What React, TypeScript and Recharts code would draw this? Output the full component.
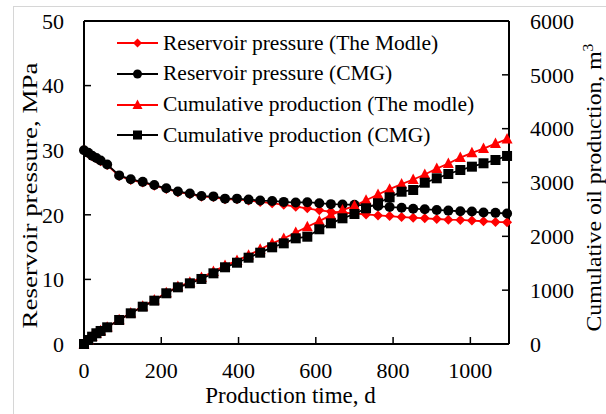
import { ComposedChart, Line, XAxis, YAxis, Legend, ReferenceLine, Label } from "recharts";

// Production time, d
const days = [
  0, 11, 21, 32, 43, 60, 91, 121, 152, 182, 213, 243, 274, 304, 335, 365, 396, 426, 456, 487,
  517, 548, 578, 609, 639, 669, 700, 730, 761, 791, 822, 852, 882, 913, 943, 974, 1004, 1034, 1065, 1095,
];

// Reservoir pressure, MPa
const pressureModel = [
  30.0, 29.5, 29.05, 28.7, 28.3, 27.7, 26.0, 25.4, 25.0, 24.5, 24.0, 23.5, 23.2, 22.8, 22.75, 22.4, 22.4, 22.2, 22.0, 21.8,
  21.55, 21.25, 21.0, 20.7, 20.5, 20.35, 20.2, 20.05, 19.9, 19.8, 19.65, 19.55, 19.45, 19.35, 19.25, 19.2, 19.1, 19.0, 18.9, 18.85,
];
const pressureCmg = [
  30.0, 29.6, 29.15, 28.8, 28.4, 27.8, 26.1, 25.5, 25.1, 24.6, 24.1, 23.6, 23.3, 22.9, 22.85, 22.5, 22.5, 22.35, 22.2, 22.15,
  22.0, 21.9, 21.95, 21.8, 21.65, 21.6, 21.55, 21.45, 21.35, 21.2, 21.1, 20.95, 20.85, 20.75, 20.65, 20.55, 20.5, 20.35, 20.3, 20.2,
];

// Cumulative oil production, m3
const cumModel = [
  0, 74, 136, 199, 245, 312, 450, 575, 700, 815, 950, 1065, 1145, 1235, 1345, 1455, 1550, 1650, 1760, 1868,
  1960, 2072, 2177, 2282, 2393, 2486, 2566, 2671, 2777, 2876, 2969, 3055, 3148, 3259, 3352, 3463, 3550, 3630, 3723, 3805,
];
const cumCmg = [
  0, 74, 136, 199, 242, 310, 446, 570, 693, 805, 942, 1053, 1127, 1208, 1313, 1425, 1510, 1603, 1696, 1796,
  1870, 1963, 1993, 2131, 2242, 2335, 2415, 2521, 2614, 2725, 2829, 2861, 2996, 3078, 3158, 3232, 3294, 3357, 3418, 3493,
];

const timeTicks = [0, 200, 400, 600, 800, 1000];
const pressureTicks = [0, 10, 20, 30, 40, 50];
const cumTicks = [0, 1000, 2000, 3000, 4000, 5000, 6000];

const data = days.map((day, i) => ({
  day,
  pModel: pressureModel[i],
  pCmg: pressureCmg[i],
  qModel: cumModel[i],
  qCmg: cumCmg[i],
}));

const FONT = '"Liberation Serif", "Times New Roman", serif';
const RED = "#ff0000";
const BLACK = "#000000";

type Shape = "diamond" | "circle" | "triangle" | "square";

// one entry per series, in legend order
const series: { key: string; name: string; axis: string; color: string; shape: Shape; size: number }[] = [
  { key: "pModel", name: "Reservoir pressure (The Modle)", axis: "p", color: RED, shape: "diamond", size: 10 },
  { key: "pCmg", name: "Reservoir pressure (CMG)", axis: "p", color: BLACK, shape: "circle", size: 10 },
  { key: "qModel", name: "Cumulative production (The modle)", axis: "q", color: RED, shape: "triangle", size: 11 },
  { key: "qCmg", name: "Cumulative production (CMG)", axis: "q", color: BLACK, shape: "square", size: 10 },
];

function Marker({ shape, cx, cy, size, color }: { shape: Shape; cx: number; cy: number; size: number; color: string }) {
  const h = size / 2;
  if (cx == null || cy == null) return null;
  switch (shape) {
    case "diamond":
      return <polygon points={`${cx},${cy - h} ${cx + h},${cy} ${cx},${cy + h} ${cx - h},${cy}`} fill={color} />;
    case "circle":
      return <circle cx={cx} cy={cy} r={h} fill={color} />;
    case "triangle":
      return (
        <polygon points={`${cx},${cy - h * 1.1} ${cx + h},${cy + h * 0.8} ${cx - h},${cy + h * 0.8}`} fill={color} />
      );
    default:
      return <rect x={cx - h} y={cy - h} width={size} height={size} fill={color} />;
  }
}

const dotFor = (shape: Shape, color: string, size: number) => (p: any) => (
  <g key={`${shape}-${p.index}`}>
    <Marker shape={shape} cx={p.cx} cy={p.cy} size={size} color={color} />
  </g>
);

function LegendRows() {
  return (
    <div style={{ fontFamily: FONT, fontSize: 21.5, color: BLACK, lineHeight: 1 }}>
      {series.map((s) => (
        <div key={s.key} style={{ display: "flex", alignItems: "center", height: 30.7 }}>
          <svg width={41} height={14} style={{ display: "block" }}>
            <line x1={0} y1={7} x2={41} y2={7} stroke={s.color} strokeWidth={1.8} />
            <Marker shape={s.shape} cx={20.5} cy={7} size={s.shape === "triangle" ? 10 : 9} color={s.color} />
          </svg>
          <span style={{ marginLeft: 5, whiteSpace: "nowrap" }}>{s.name}</span>
        </div>
      ))}
    </div>
  );
}

const XTitle = ({ viewBox }: any) => (
  <text
    x={viewBox.x + viewBox.width / 2 - 6}
    y={viewBox.y + viewBox.height - 11}
    textAnchor="middle"
    fontFamily={FONT}
    fontSize={23}
    fill={BLACK}
  >
    Production time, d
  </text>
);

const LeftTitle = ({ viewBox }: any) => {
  const cx = viewBox.x + 30;
  const cy = viewBox.y + viewBox.height / 2 + 13;
  return (
    <text
      x={cx}
      y={cy}
      dy="0.33em"
      transform={`rotate(-90, ${cx}, ${cy})`}
      textAnchor="middle"
      fontFamily={FONT}
      fontSize={21}
      fill={BLACK}
      textLength={266}
      lengthAdjust="spacingAndGlyphs"
    >
      Reservoir pressure, MPa
    </text>
  );
};

const RightTitle = ({ viewBox }: any) => {
  const cx = viewBox.x + 85;
  const cy = viewBox.y + viewBox.height / 2 + 5;
  return (
    <text
      x={cx}
      y={cy}
      dy="0.33em"
      transform={`rotate(-90, ${cx}, ${cy})`}
      textAnchor="middle"
      fontFamily={FONT}
      fontSize={21}
      fill={BLACK}
      textLength={288}
      lengthAdjust="spacingAndGlyphs"
    >
      Cumulative oil production, m
      <tspan dy={-8} fontSize={14}>
        3
      </tspan>
    </text>
  );
};

const tickStyle = { fill: BLACK, fontSize: 22, fontFamily: FONT };
const axisLine = { stroke: BLACK, strokeWidth: 2 };
const tickLine = { stroke: BLACK, strokeWidth: 1.5 };

export default function App() {
  return (
    <div style={{ position: "absolute", left: 0, top: 0, width: 606, height: 414, background: "#fff" }}>
      <div
        style={{
          position: "absolute",
          left: 13,
          top: 6,
          right: 0,
          bottom: 0,
          borderLeft: "1.5px solid #d6d6d6",
          borderTop: "1.5px solid #d6d6d6",
        }}
      />
      <ComposedChart width={606} height={414} data={data} margin={{ top: 21, right: 0, bottom: 0, left: 0 }}>
        <XAxis
          dataKey="day"
          type="number"
          domain={[0, 1100]}
          ticks={timeTicks}
          interval={0}
          height={70}
          axisLine={axisLine}
          tickLine={tickLine}
          tickSize={-7}
          tickMargin={25}
          tick={tickStyle}
        >
          <Label content={XTitle} />
        </XAxis>
        <YAxis
          yAxisId="p"
          domain={[0, 50]}
          ticks={pressureTicks}
          interval={0}
          width={84}
          axisLine={axisLine}
          tickLine={tickLine}
          tickSize={-7}
          tickMargin={27}
          tick={tickStyle}
        >
          <Label content={LeftTitle} />
        </YAxis>
        <YAxis
          yAxisId="q"
          orientation="right"
          domain={[0, 6000]}
          ticks={cumTicks}
          interval={0}
          width={97}
          axisLine={axisLine}
          tickLine={tickLine}
          tickSize={-7}
          tickMargin={28}
          tick={tickStyle}
        >
          <Label content={RightTitle} />
        </YAxis>
        <ReferenceLine yAxisId="p" y={50} stroke={BLACK} strokeWidth={2} />
        <Legend
          layout="vertical"
          align="center"
          verticalAlign="middle"
          content={LegendRows}
          wrapperStyle={{ left: 117, top: 28, width: "auto", height: "auto" }}
        />
        {series.map((s) => (
          <Line
            key={s.key}
            yAxisId={s.axis}
            dataKey={s.key}
            name={s.name}
            stroke={s.color}
            strokeWidth={1.8}
            dot={dotFor(s.shape, s.color, s.size)}
            activeDot={false}
            isAnimationActive={false}
          />
        ))}
      </ComposedChart>
    </div>
  );
}
